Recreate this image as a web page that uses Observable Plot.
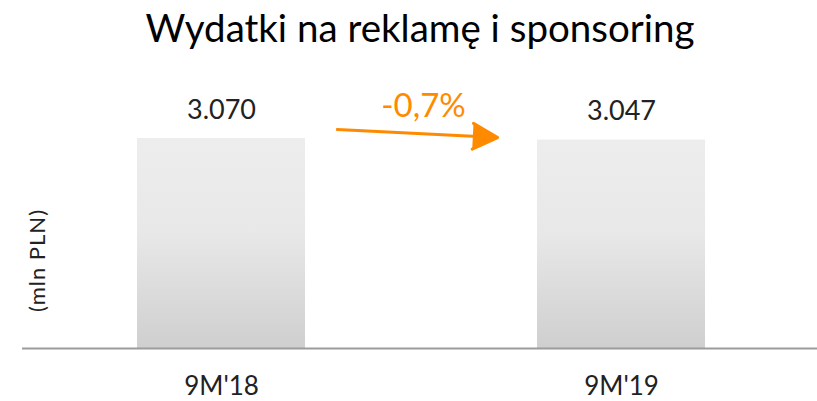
<!DOCTYPE html>
<html>
<head>
<meta charset="utf-8">
<script src="https://cdn.jsdelivr.net/npm/d3@7"></script>
<script src="https://cdn.jsdelivr.net/npm/@observablehq/plot@0.6"></script>
<style>
  body { margin: 0; background: #fff; }
</style>
</head>
<body>
<div id="chart"></div>
<script>
const title = "Wydatki na reklamę i sponsoring";
const categories = ["9M'18", "9M'19"];
const values = [3070, 3047];
const valueLabels = ["3.070", "3.047"];
const yLabel = "(mln PLN)";
// arrow endpoints (in mln PLN units, anchored to the two categories)
const arrowFrom = 3286;
const arrowTo = 2994;

const data = categories.map((c, i) => ({cat: c, value: values[i], label: valueLabels[i]}));
const change = (values[1] / values[0] - 1) * 100;
const changeLabel = (change < 0 ? "-" : "+") + Math.abs(change).toFixed(1).replace(".", ",") + "%";

const orange = "#ff8a00";
const font = "Lato, sans-serif";
const ink = "#222";

const chart = Plot.plot({
  width: 817,
  height: 401,
  marginLeft: 22,
  marginRight: 0,
  marginTop: 138,
  marginBottom: 53,
  style: {fontFamily: font, background: "#fff", color: ink, overflow: "visible"},
  x: {type: "band", domain: categories, range: [21, 821], paddingInner: 0.58, paddingOuter: 0.29, axis: null},
  y: {domain: [0, values[0]], axis: null},
  marks: [
    Plot.barY(data, {x: "cat", y: "value", fill: "url(#barGrad)"}),
    Plot.ruleY([0], {stroke: "#9c9c9c", strokeWidth: 2}),
    Plot.axisX({tickSize: 0, tickPadding: 28, fontSize: 26, fill: ink, label: null}),
    Plot.text(data, {x: "cat", y: "value", text: "label", dy: -20, fontSize: 27, fill: ink, lineAnchor: "bottom"}),
    Plot.arrow([{x1: categories[0], x2: categories[1], y1: arrowFrom, y2: arrowTo}], {
      x1: "x1", x2: "x2", y1: "y1", y2: "y2",
      insetStart: 116, insetEnd: 124, stroke: orange, fill: orange, strokeWidth: 3,
      headLength: 14, headAngle: 55
    }),
    Plot.text([changeLabel], {x: () => categories[0], y: () => values[0], text: d => d, dx: 202, dy: -22,
      fontSize: 33, fill: orange, lineAnchor: "bottom"}),
    Plot.text([yLabel], {frameAnchor: "left", text: d => d, rotate: -90, textAnchor: "middle", lineAnchor: "middle",
      dx: 15, dy: 17, fontSize: 22, fill: ink}),
    Plot.text([title], {frameAnchor: "top", text: d => d, textAnchor: "middle", lineAnchor: "bottom",
      dy: -97, fontSize: 38.5, fill: "#000"})
  ]
});

const ns = "http://www.w3.org/2000/svg";
const defs = document.createElementNS(ns, "defs");
const grad = document.createElementNS(ns, "linearGradient");
grad.setAttribute("id", "barGrad");
grad.setAttribute("x1", "0"); grad.setAttribute("y1", "0");
grad.setAttribute("x2", "0"); grad.setAttribute("y2", "1");
[["0", "#ededed"], ["0.45", "#e8e8e8"], ["1", "#cfcfcf"]].forEach(([o, c]) => {
  const s = document.createElementNS(ns, "stop");
  s.setAttribute("offset", o); s.setAttribute("stop-color", c);
  grad.appendChild(s);
});
defs.appendChild(grad);
chart.insertBefore(defs, chart.firstChild);
chart.querySelectorAll("text").forEach(t => { if (t.textContent === yLabel) t.style.letterSpacing = "1px"; });
document.getElementById("chart").appendChild(chart);
</script>
</body>
</html>
